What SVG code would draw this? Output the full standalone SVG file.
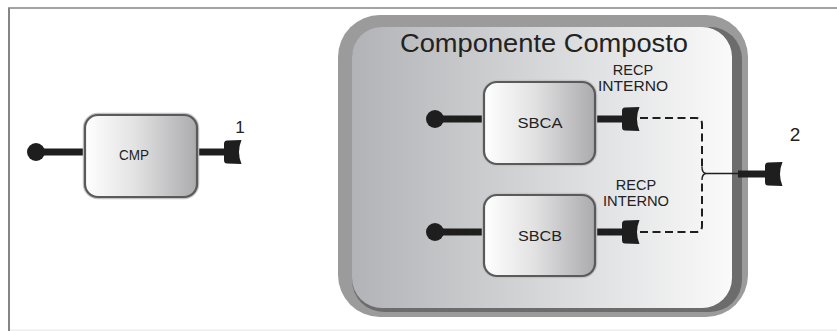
<svg xmlns="http://www.w3.org/2000/svg" width="837" height="331" viewBox="0 0 837 331">
<defs>
<linearGradient id="boxGrad" x1="0" y1="0" x2="1" y2="0">
<stop offset="0" stop-color="#ffffff"/>
<stop offset="0.45" stop-color="#e2e2e3"/>
<stop offset="1" stop-color="#ababad"/>
</linearGradient>
<linearGradient id="panelGrad" x1="0" y1="0" x2="1" y2="0">
<stop offset="0" stop-color="#b2b3b6"/>
<stop offset="0.5" stop-color="#d6d7d9"/>
<stop offset="1" stop-color="#fafafa"/>
</linearGradient>
<path id="socket" d="M0,-8 Q0,-11.5 3,-11.5 L17.5,-12 Q12.5,0 17.5,12 L3,11.5 Q0,11.5 0,8 Z"/>
<style>
.box{fill:url(#boxGrad);stroke:#5a5a5a;stroke-width:2.2}
.boxhalo{fill:none;stroke:#c4c4c4;stroke-width:4.5}
.stem{stroke:#1e1e1e;stroke-width:7;fill:none}
.ball{fill:#1e1e1e}
.sock{fill:#1e1e1e}
.dash{fill:none;stroke:#1e1e1e;stroke-width:2;stroke-dasharray:8 4.5}
.thin{fill:none;stroke:#1e1e1e;stroke-width:1.4}
text{font-family:"Liberation Sans",Arial,sans-serif;fill:#222}
.lbl{font-size:14px;text-anchor:middle}
.port{font-size:14.5px;text-anchor:middle}
</style>
</defs>

<g id="frame">
<line x1="8" y1="8" x2="837" y2="8" stroke="#858585" stroke-width="1.6"/>
<line x1="9" y1="8" x2="9" y2="331" stroke="#858585" stroke-width="2"/>
<line x1="10" y1="330" x2="837" y2="330" stroke="#e4e4e4" stroke-width="1"/>
</g>

<g id="composite">
<rect x="338" y="15" width="410" height="302" rx="42" fill="#9b9b9c"/>
<rect x="352" y="27" width="390" height="285" rx="32" fill="#6c6c6d"/>
<rect x="352" y="27" width="380" height="281" rx="30" fill="url(#panelGrad)"/>
<text x="544" y="52" font-size="25" text-anchor="middle" textLength="288" lengthAdjust="spacingAndGlyphs">Componente Composto</text>
</g>

<g id="cmp">
<line class="stem" x1="36" y1="152" x2="86" y2="152"/>
<circle class="ball" cx="36" cy="152" r="9"/>
<line class="stem" x1="196" y1="152" x2="226" y2="152"/>
<use href="#socket" class="sock" x="224" y="152"/>
<rect class="boxhalo" x="85" y="115" width="112" height="82" rx="13"/>
<rect class="box" x="85" y="115" width="112" height="82" rx="13"/>
<text class="lbl" x="134" y="160" textLength="30" lengthAdjust="spacingAndGlyphs">CMP</text>
<text x="240" y="133" font-size="17" text-anchor="middle">1</text>
</g>

<g id="sbca">
<line class="stem" x1="435" y1="119" x2="485" y2="119"/>
<circle class="ball" cx="435" cy="119" r="9"/>
<line class="stem" x1="594" y1="119" x2="625" y2="119"/>
<use href="#socket" class="sock" x="622" y="119"/>
<rect class="boxhalo" x="484" y="82" width="111" height="82" rx="13"/>
<rect class="box" x="484" y="82" width="111" height="82" rx="13"/>
<text class="lbl" x="540" y="128" textLength="45" lengthAdjust="spacingAndGlyphs">SBCA</text>
<text class="port" x="633" y="75">RECP</text>
<text class="port" x="633" y="91" textLength="70" lengthAdjust="spacingAndGlyphs">INTERNO</text>
</g>

<g id="sbcb">
<line class="stem" x1="435" y1="232" x2="485" y2="232"/>
<circle class="ball" cx="435" cy="232" r="9"/>
<line class="stem" x1="594" y1="232" x2="625" y2="232"/>
<use href="#socket" class="sock" x="622" y="232"/>
<rect class="boxhalo" x="484" y="195" width="111" height="81" rx="13"/>
<rect class="box" x="484" y="195" width="111" height="81" rx="13"/>
<text class="lbl" x="540" y="241" textLength="44" lengthAdjust="spacingAndGlyphs">SBCB</text>
<text class="port" x="636" y="190">RECP</text>
<text class="port" x="636" y="206" textLength="66" lengthAdjust="spacingAndGlyphs">INTERNO</text>
</g>

<g id="port2">
<line class="thin" x1="706" y1="173.5" x2="742" y2="173.5"/>
<line class="stem" x1="738" y1="174" x2="767" y2="174" stroke-width="8"/>
<use href="#socket" class="sock" x="765" y="174"/>
<text x="795" y="141" font-size="19" text-anchor="middle">2</text>
</g>

<g id="connectors">
<path class="dash" d="M640,118 L696,118 Q702,118 702,124 L702,168"/>
<path class="dash" d="M640,232 L696,232 Q702,232 702,226 L702,179"/>
<path class="thin" d="M702,167 Q702,173 706,173.5 M702,180 Q702,174 706,173.5" stroke-width="1.6"/>
</g>
</svg>
